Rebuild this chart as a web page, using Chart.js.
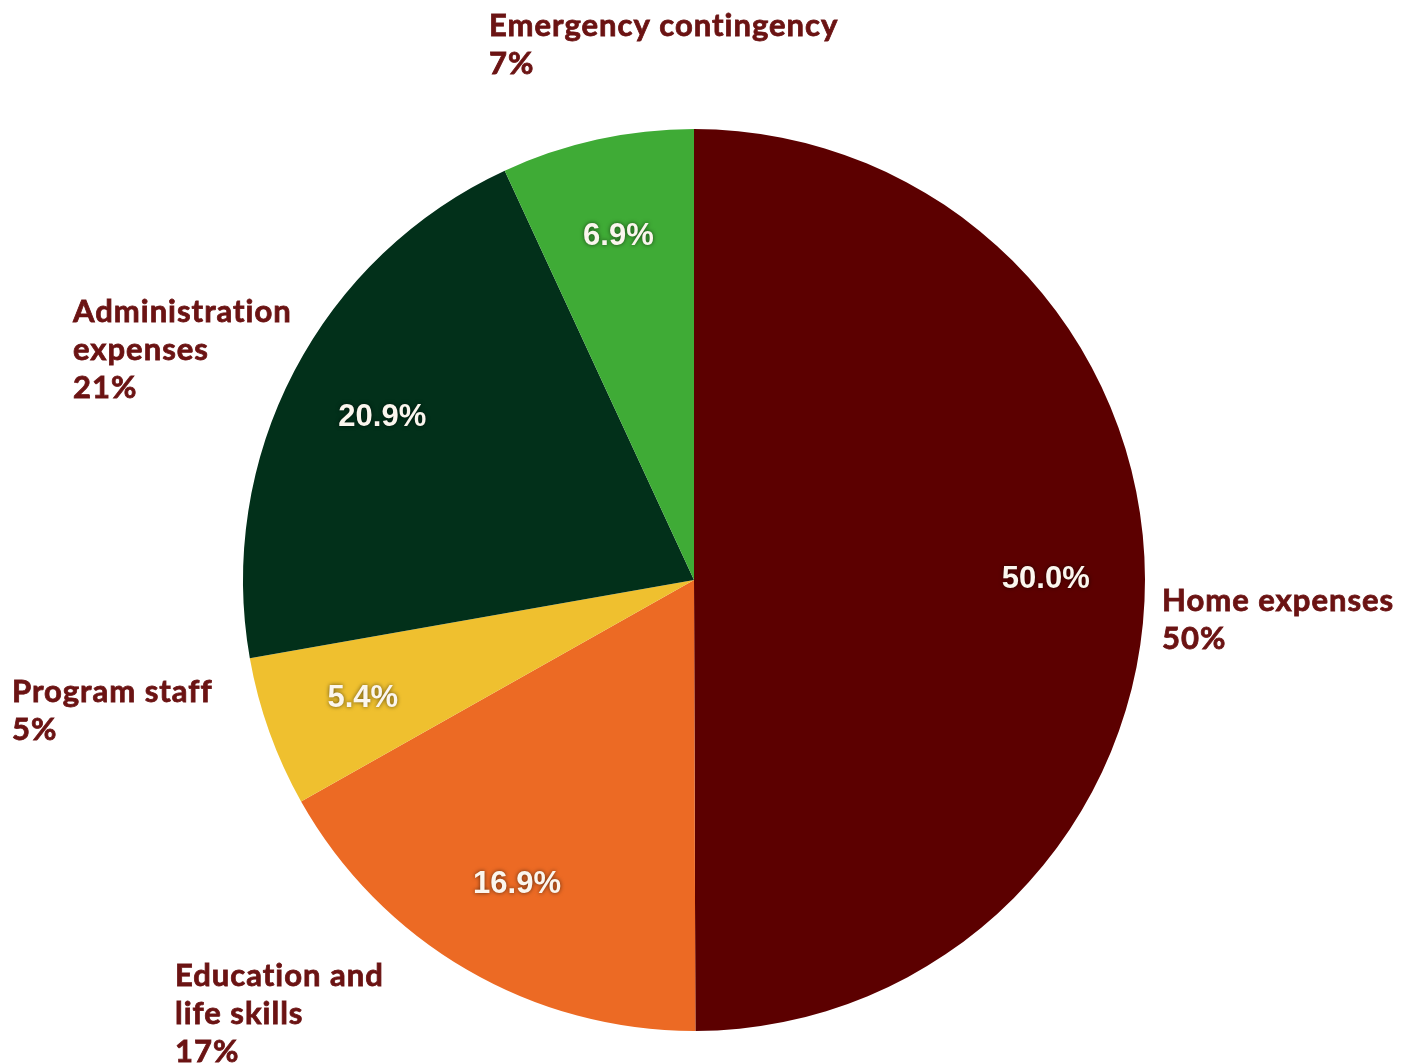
<!DOCTYPE html>
<html>
<head>
<meta charset="utf-8">
<script src="https://cdn.jsdelivr.net/npm/chart.js@4.4.0/dist/chart.umd.min.js"></script>
<style>
  html, body { margin: 0; padding: 0; background: #fff; }
  #wrap { width: 1416px; height: 1063px; }
</style>
</head>
<body>
<div id="wrap"><canvas id="budgetPie"></canvas></div>
<script>
// Budget split, clockwise from 12 o'clock
const categories = ['Home expenses', 'Education and life skills', 'Program staff', 'Administration expenses', 'Emergency contingency'];
const shares = [50.0, 16.9, 5.4, 20.9, 6.9];
const roundedLabels = ['50%', '17%', '5%', '21%', '7%'];
const sliceColors = ['#5c0000', '#ec6a24', '#efc02f', '#02301a', '#3fab36'];

// outside label blocks: line breaks and position of first baseline
const outsideLines = [
    ['Home expenses'],
    ['Education and', 'life skills'],
    ['Program staff'],
    ['Administration', 'expenses'],
    ['Emergency contingency']
];
const outsidePos = [[1162, 611], [175, 986], [12, 702], [73, 322], [489, 36]];

const labelPlugin = {
    id: 'sliceLabels',
    afterDatasetsDraw(chart) {
        const ctx = chart.ctx;
        const meta = chart.getDatasetMeta(0);
        ctx.save();

        // percentages inside slices
        ctx.font = 'bold 31px "Liberation Sans", Arial, sans-serif';
        ctx.textAlign = 'center';
        ctx.textBaseline = 'middle';
        meta.data.forEach((arc, i) => {
            const mid = (arc.startAngle + arc.endAngle) / 2;
            const r = arc.outerRadius * 0.78;
            const x = arc.x + Math.cos(mid) * r;
            const y = arc.y + Math.sin(mid) * r;
            ctx.shadowColor = 'rgba(0,0,0,0.6)';
            ctx.shadowBlur = 4;
            ctx.fillStyle = '#fbf6ee';
            ctx.fillText(shares[i].toFixed(1) + '%', x, y);
        });

        // names + rounded value outside
        ctx.shadowColor = 'transparent';
        ctx.shadowBlur = 0;
        ctx.font = 'bold 31px Lato, "Open Sans", sans-serif';
        ctx.letterSpacing = '1px';
        ctx.textAlign = 'left';
        ctx.textBaseline = 'alphabetic';
        ctx.fillStyle = '#6b1313';
        ctx.strokeStyle = '#6b1313';
        ctx.lineWidth = 0.8;
        categories.forEach((c, i) => {
            const lines = outsideLines[i].concat([roundedLabels[i]]);
            const [x, y] = outsidePos[i];
            lines.forEach((t, j) => {
                ctx.fillText(t, x, y + j * 38);
                ctx.strokeText(t, x, y + j * 38);
            });
        });
        ctx.restore();
    }
};

const canvas = document.getElementById('budgetPie');
new Chart(canvas.getContext('2d'), {
    type: 'pie',
    data: {
        labels: categories,
        datasets: [{
            data: shares,
            backgroundColor: sliceColors,
            borderWidth: 0
        }]
    },
    options: {
        responsive: true,
        maintainAspectRatio: false,
        animation: false,
        layout: { padding: { left: 243, right: 271, top: 129, bottom: 32 } },
        plugins: {
            legend: { display: false },
            tooltip: { enabled: false }
        }
    },
    plugins: [labelPlugin]
});
</script>
</body>
</html>
